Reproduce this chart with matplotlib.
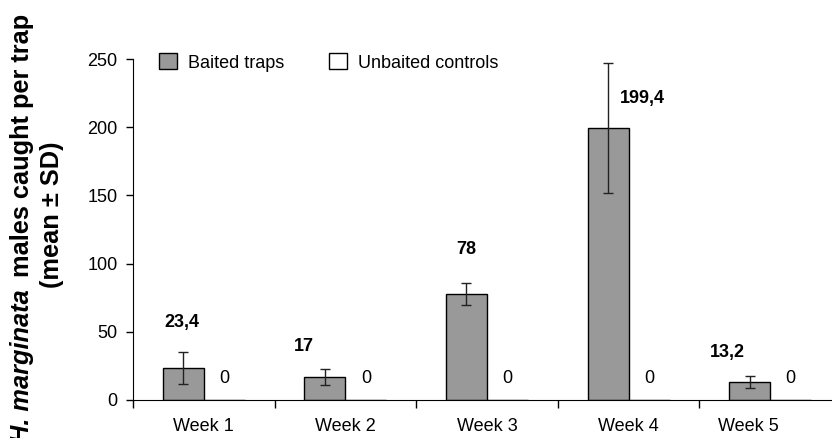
import matplotlib
matplotlib.use('Agg')
import matplotlib.pyplot as plt
from matplotlib.patches import Patch
import numpy as np

plt.rcParams['font.family'] = ['Liberation Sans', 'DejaVu Sans']
###############################################################################
# Data
###############################################################################
weeks = ['Week 1', 'Week 2', 'Week 3', 'Week 4', 'Week 5']
baited = [23.4, 17, 78, 199.4, 13.2]
baitedSD = [12, 6, 8, 48, 4.2]
unbaited = [0, 0, 0, 0, 0]
baitedLabels = ['23,4', '17', '78', '199,4', '13,2']
unbaitedLabels = ['0', '0', '0', '0', '0']
# Label placement (category offset, y value) ----------------------------------
lblDx = [-0.01, -0.15, 0.0, 0.24, -0.16]
lblY = [57, 39, 110, 221, 34.5]
weekDx = [0, 0, 0, 0, -0.155]
###############################################################################
# Plot
###############################################################################
(BAR_C, FS, FSY) = ('#999999', 13, 18.3)
barW = 0.29
fig = plt.figure(figsize=(8.32, 4.38), dpi=100)
ax = fig.add_axes([133/832, 38/438, 708/832, 341/438])
ax.set_xlim(0, 5)
ax.set_ylim(0, 250)
x = np.arange(len(weeks)) + 0.5
# Bars ------------------------------------------------------------------------
ax.bar(
        x - barW/2, baited, width=barW, color=BAR_C, edgecolor='black',
        linewidth=1, yerr=baitedSD,
        error_kw={'capsize': 3.5, 'elinewidth': 1, 'capthick': 1,
                  'ecolor': '#222222'}
    )
ax.bar(
        x + barW/2, unbaited, width=barW, color='white', edgecolor='black',
        linewidth=1
    )
# Value labels ----------------------------------------------------------------
for i in range(len(weeks)):
    ax.text(
            x[i] - barW/2 + lblDx[i], lblY[i], baitedLabels[i],
            ha='center', va='center', fontsize=FS, fontweight='bold'
        )
    ax.text(
            x[i] + barW/2, 16, unbaitedLabels[i],
            ha='center', va='center', fontsize=FS
        )
# Axes style ------------------------------------------------------------------
ax.spines['top'].set_visible(False)
ax.spines['right'].set_visible(False)
ax.set_yticks(range(0, 251, 50))
ax.tick_params(axis='y', length=5, width=1, pad=6, labelsize=FS)
ax.set_xticks(range(0, 5))
ax.set_xticklabels([])
ax.tick_params(axis='x', which='major', length=6, width=1)
ax.set_xticks(x + np.array(weekDx), minor=True)
ax.set_xticklabels(weeks, minor=True)
ax.tick_params(axis='x', which='minor', length=0, pad=13, labelsize=FS)
# Legend ----------------------------------------------------------------------
handles = [
        Patch(facecolor=BAR_C, edgecolor='black', linewidth=1),
        Patch(facecolor='white', edgecolor='black', linewidth=1)
    ]
ax.legend(
        handles, ['Baited traps', 'Unbaited controls'], ncol=2,
        frameon=False, fontsize=FS, handlelength=1.0, handleheight=1.0,
        handletextpad=0.6, columnspacing=2.5, borderaxespad=0,
        loc='center left', bbox_to_anchor=(0.026, 0.99)
    )
# Y label (mixed italic / bold) -----------------------------------------------
fig.canvas.draw()
rend = fig.canvas.get_renderer()
t1 = fig.text(
        22/832, (438 - 443)/438, 'H. marginata', rotation=90, fontsize=FSY,
        fontweight='bold', fontstyle='italic', ha='center', va='bottom'
    )
bb = t1.get_window_extent(renderer=rend)
fig.text(
        22/832, (bb.y1 + 12)/438, 'males caught per trap', rotation=90,
        fontsize=FSY, fontweight='bold', ha='center', va='bottom'
    )
fig.text(
        52/832, (438 - 215)/438, '(mean ± SD)', rotation=90,
        fontsize=FSY, fontweight='bold', ha='center', va='center'
    )
# Export ----------------------------------------------------------------------
fig.savefig('out.png', dpi=100)
